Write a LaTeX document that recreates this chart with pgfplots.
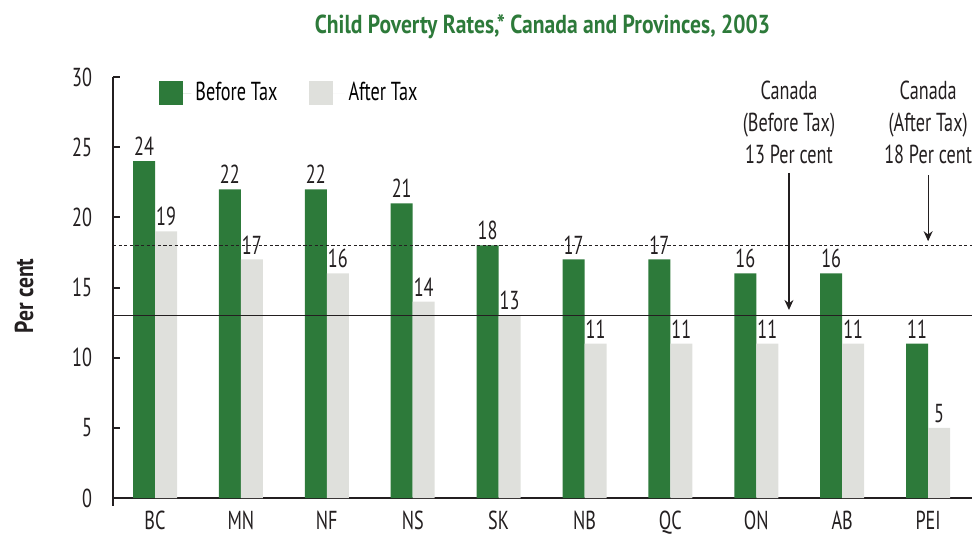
\documentclass[border=0pt]{standalone}
\usepackage{fontspec}
\setmainfont{PT Sans}[FakeStretch=0.70, BoldFeatures={FakeStretch=0.83}]
\usepackage{pgfplots}
\pgfplotsset{compat=1.18}
\usetikzlibrary{arrows.meta}
\definecolor{cgreen}{RGB}{45,122,58}
\definecolor{cgray}{RGB}{223,224,220}
\definecolor{ctext}{RGB}{35,31,32}
\begin{document}
\begin{tikzpicture}[font=\fontsize{13}{15}\selectfont]
\path[use as bounding box] (-56.5pt,-20pt) rectangle (431pt,249pt);
\begin{axis}[
  at={(0,0)}, anchor=south west,
  scale only axis, width=429.5pt, height=210.5pt,
  xmin=-0.489, xmax=9.511, ymin=0, ymax=30,
  ybar=0pt, bar width=11pt,
  axis x line=bottom, axis y line=left,
  axis line style={line width=1pt, draw=ctext, -},
  every outer x axis line/.append style={-},
  every outer y axis line/.append style={-},
  xtick={0,...,9},
  xticklabels={BC,MN,NF,NS,SK,NB,QC,ON,AB,PEI},
  x tick style={draw=none},
  ytick={0,5,...,30},
  y tick style={line width=1pt, draw=ctext},
  tick align=inside, major tick length=3.5pt,
  /pgf/number format/assume math mode=true,
  tick label style={text=ctext},
  xticklabel style={yshift=-3pt},
  yticklabel style={xshift=-7pt},
  nodes near coords,
  nodes near coords style={text=ctext, inner sep=2.5pt},
  legend columns=2,
  legend style={draw=none, fill=none, at={(0.0536,0.962)}, anchor=west, inner sep=0pt,
    /tikz/every even column/.append style={column sep=13.5pt}},
  clip=false,
]
\addplot[fill=cgreen, draw=none,
  legend image code/.code={\fill[cgreen] (0pt,-6pt) rectangle (12pt,6pt); \path (0pt,0pt) -- (16pt,0pt);}]
  coordinates {(0,24) (1,22) (2,22) (3,21) (4,18) (5,17) (6,17) (7,16) (8,16) (9,11)};
\addlegendentry{Before Tax}
\addplot[fill=cgray, draw=none,
  legend image code/.code={\fill[cgray] (0pt,-6pt) rectangle (12pt,6pt); \path (0pt,0pt) -- (18pt,0pt);}]
  coordinates {(0,19) (1,17) (2,16) (3,14) (4,13) (5,11) (6,11) (7,11) (8,11) (9,5)};
\addlegendentry{After Tax}
\draw[line width=0.6pt, ctext] (axis cs:-0.489,13) -- (axis cs:9.511,13);
\draw[line width=0.6pt, ctext, dash pattern=on 1.6pt off 1.2pt] (axis cs:-0.489,18) -- (axis cs:9.511,18);
\draw[line width=1pt, ctext] (axis cs:-0.489,0) -- ++(0pt,-4pt);
\node[align=center, text=ctext, font=\fontsize{13}{16}\selectfont] at (axis cs:7.38,26.8) {Canada\\(Before Tax)\\13 Per cent};
\node[align=center, text=ctext, font=\fontsize{13}{16}\selectfont] at (axis cs:9.0,26.8) {Canada\\(After Tax)\\18 Per cent};
\draw[-{Stealth[length=5pt,width=4.5pt]}, line width=0.6pt, ctext] (axis cs:7.38,23.16) -- (axis cs:7.38,13.4);
\draw[-{Stealth[length=5pt,width=4.5pt]}, line width=0.6pt, ctext] (axis cs:9.0,23.0) -- (axis cs:9.0,18.3);
\end{axis}
\node[text=cgreen, font=\fontsize{13}{15}\selectfont\bfseries] at (214.75pt,235.5pt) {Child Poverty Rates,* Canada and Provinces, 2003};
\node[text=ctext, rotate=90, font=\fontsize{13}{15}\selectfont\bfseries] at (-44.5pt,101pt) {Per cent};
\end{tikzpicture}
\end{document}
